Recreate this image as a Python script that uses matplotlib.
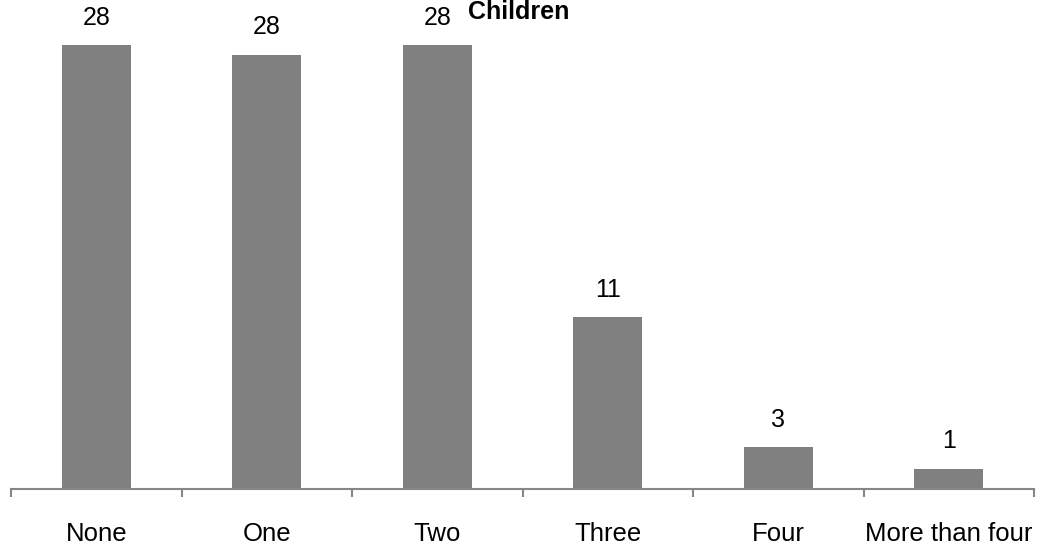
import matplotlib.pyplot as plt
import numpy as np

categories = ["None", "One", "Two", "Three", "Four", "More than four"]
percent = [28.4, 27.8, 28.4, 11.0, 2.7, 1.3]

plt.rcParams['font.family'] = ['Liberation Sans', 'DejaVu Sans']

fig = plt.figure(figsize=(10.4, 5.49), dpi=100)
ax = fig.add_axes([11 / 1040, 1 - 489 / 549, 1023 / 1040, 489 / 549])

x = np.arange(len(categories))
bars = ax.bar(x, percent, width=0.405, color="#808080")

for b, v in zip(bars, percent):
    ax.annotate(f"{v:.0f}", (b.get_x() + b.get_width() / 2, v),
                xytext=(0, 11), textcoords="offset points",
                ha="center", va="bottom", fontsize=18)

ax.set_xlim(-0.5, len(categories) - 0.5)
ax.set_ylim(0, 31.3)

for s in ["left", "right", "top"]:
    ax.spines[s].set_visible(False)
ax.spines["bottom"].set_color("#868686")
ax.spines["bottom"].set_linewidth(1.5)

ax.set_yticks([])
ax.set_xticks(x)
ax.set_xticklabels(categories, fontsize=18.5)
ax.tick_params(axis="x", which="major", length=0, pad=24)
ax.set_xticks(np.arange(len(categories) + 1) - 0.5, minor=True)
ax.tick_params(axis="x", which="minor", length=6, width=1.5, color="#868686", direction="out")

# chart title, pushed up against the top edge
fig.text(519 / 1040, 1 - 19 / 549, "Children", ha="center", va="baseline",
         fontsize=18, fontweight="bold")

fig.savefig("out.png", dpi=100)
